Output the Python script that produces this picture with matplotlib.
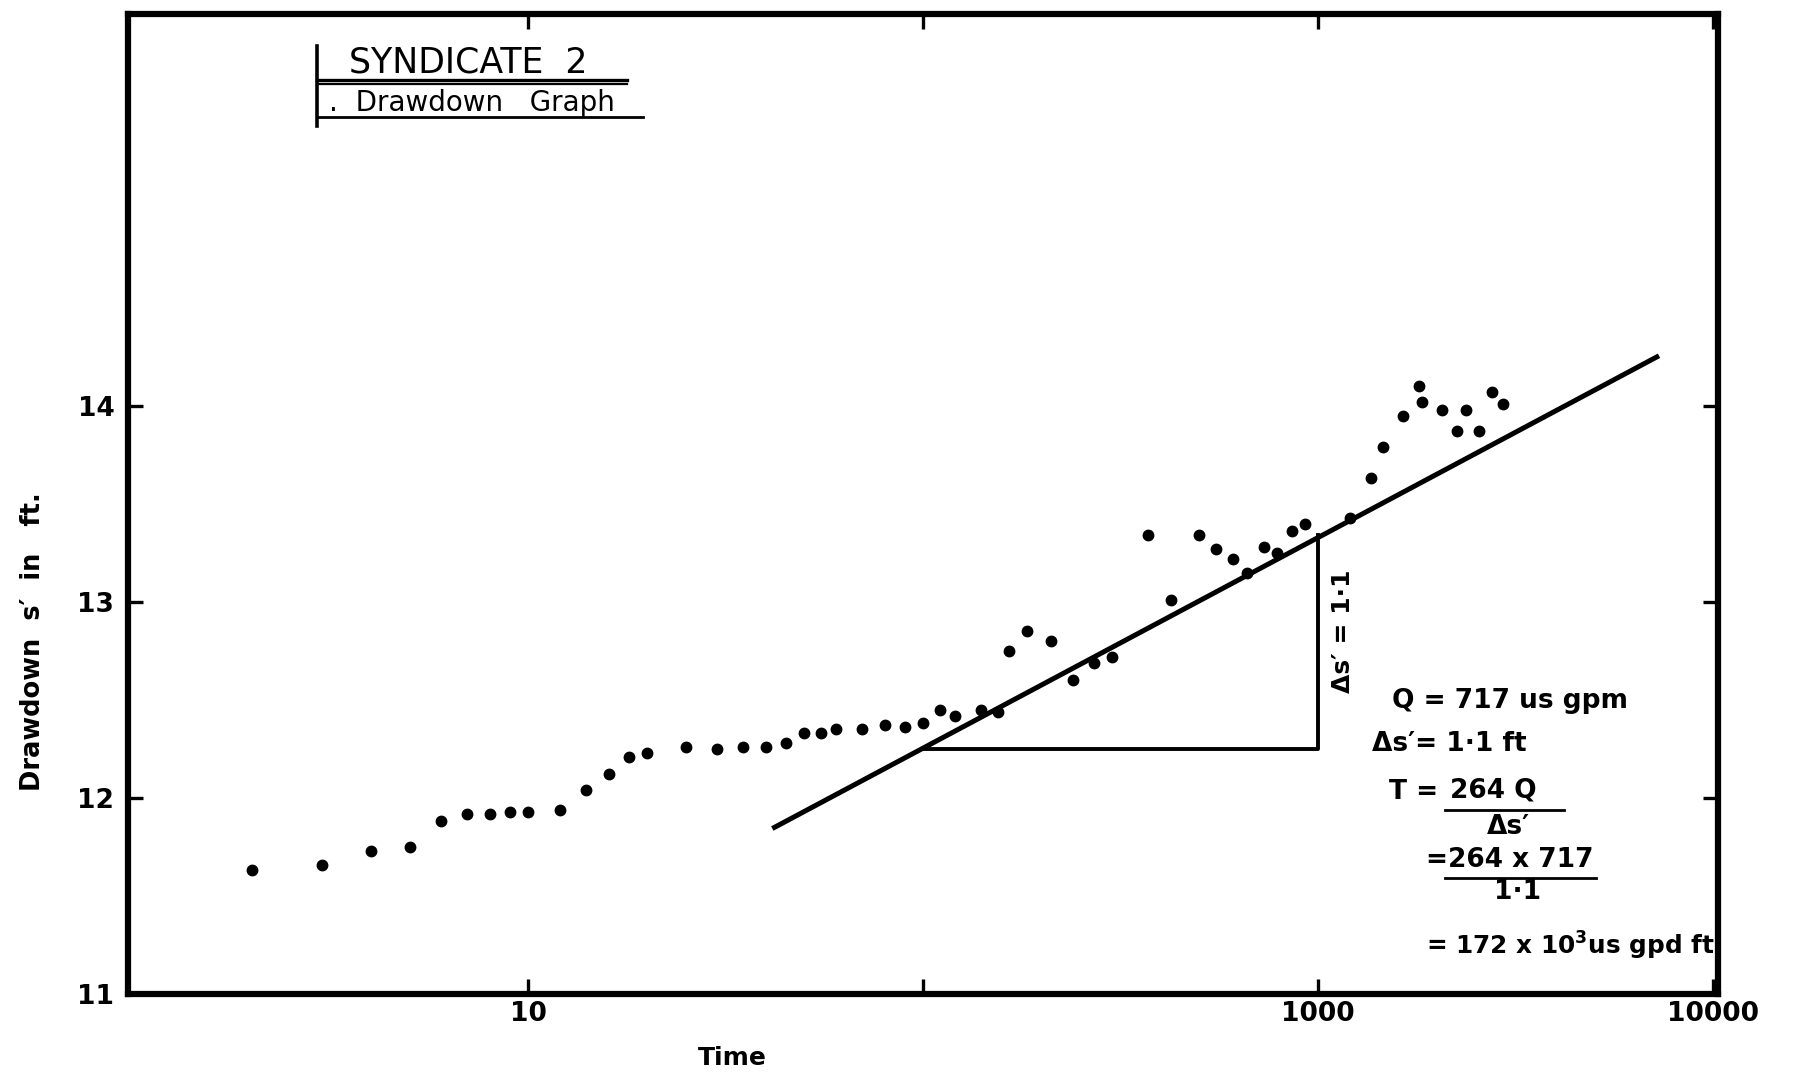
import matplotlib
matplotlib.use("Agg")
import matplotlib.pyplot as plt
import numpy as np

plt.rcParams['font.family'] = ['DejaVu Sans']

# ---- data ----
time_min = [2, 3, 4, 5, 6, 7, 8, 9, 10, 12, 14, 16, 18, 20, 25, 30, 35, 40, 45,
            50, 55, 60, 70, 80, 90, 100, 110, 120, 140, 155, 165, 183, 210, 240,
            270, 300, 370, 425, 500, 550, 610, 660, 730, 785, 860, 925, 1200,
            1360, 1455, 1640, 1795, 1830, 2055, 2250, 2365, 2550, 2755, 2945]
drawdown_ft = [11.63, 11.66, 11.73, 11.75, 11.88, 11.92, 11.92, 11.93, 11.93, 11.94,
               12.04, 12.12, 12.21, 12.23, 12.26, 12.25, 12.26, 12.26, 12.28,
               12.33, 12.33, 12.35, 12.35, 12.37, 12.36, 12.38, 12.45, 12.42, 12.45,
               12.44, 12.75, 12.85, 12.80, 12.60, 12.69, 12.72, 13.34, 13.01, 13.34,
               13.27, 13.22, 13.15, 13.28, 13.25, 13.36, 13.40, 13.43, 13.63, 13.79,
               13.95, 14.10, 14.02, 13.98, 13.87, 13.98, 13.87, 14.07, 14.01]

fit_t = [42, 7200]
fit_s = [11.85, 14.25]

tri_t = [100, 1000, 1000]
tri_s = [12.25, 12.25, 13.34]

x_ticks = [10, 100, 1000, 10000]
x_tick_labels = ['10', '', '1000', '10000']
y_ticks = [11, 12, 13, 14]
y_tick_labels = ['11', '12', '13', '14']

# ---- figure ----
fig = plt.figure(figsize=(17.96, 10.77), dpi=100)
ax = fig.add_axes([0.0714, 0.0771, 0.8853, 0.91])
ax.set_xscale('log')
ax.set_xlim(0.97, 10300)
ax.set_ylim(11, 16)

ax.plot(time_min, drawdown_ft, 'o', color='black', markersize=7.5, zorder=3)
ax.plot(fit_t, fit_s, '-', color='black', linewidth=3.6, zorder=2)
ax.plot(tri_t, tri_s, '-', color='black', linewidth=2.8, zorder=2)

for s in ax.spines.values():
    s.set_linewidth(4.5)
    s.set_color('black')

ax.set_xticks(x_ticks)
ax.set_xticklabels(x_tick_labels)
ax.xaxis.set_minor_locator(matplotlib.ticker.NullLocator())
ax.set_yticks(y_ticks)
ax.set_yticklabels(y_tick_labels)
ax.tick_params(axis='both', which='major', direction='in', length=11, width=2.4,
               top=True, right=True, labelsize=19)
ax.tick_params(axis='x', pad=5)
ax.tick_params(axis='y', pad=10)
for lab in ax.get_xticklabels() + ax.get_yticklabels():
    lab.set_fontweight('bold')

ax.set_xlabel('Time', fontsize=18, fontweight='bold')
ax.xaxis.set_label_coords(0.380, -0.053)
ax.set_ylabel("Drawdown  s\u2032  in   ft.", fontsize=18.5, fontweight='bold')
ax.yaxis.set_label_coords(-0.052, 0.36)

T = ax.transAxes
txt = dict(transform=T, fontweight='bold', color='black', va='center')

# title block
ax.text(0.139, 0.950, 'SYNDICATE  2', fontsize=25, ha='left', fontweight='normal',
        transform=T, va='center')
ax.plot([0.119, 0.314], [0.933, 0.933], color='black', lw=2.4, transform=T, clip_on=False)
ax.plot([0.119, 0.314], [0.928, 0.928], color='black', lw=1.6, transform=T, clip_on=False)
ax.text(0.126, 0.909, '.  Drawdown   Graph', fontsize=20, ha='left', fontweight='normal',
        transform=T, va='center')
ax.plot([0.119, 0.324], [0.895, 0.895], color='black', lw=2.0, transform=T, clip_on=False)
ax.plot([0.119, 0.119], [0.886, 0.967], color='black', lw=2.6, transform=T, clip_on=False)

# vertical label on the triangle
ax.text(0.764, 0.37, "\u0394s\u2032 = 1\u00b71", fontsize=18, rotation=90, ha='center', **txt)

# calculation block
ax.text(0.795, 0.299, 'Q = 717 us gpm', fontsize=19, ha='left', **txt)
ax.text(0.782, 0.255, "\u0394s\u2032= 1\u00b71 ft", fontsize=19, ha='left', **txt)
ax.text(0.793, 0.206, 'T =', fontsize=19, ha='left', **txt)
ax.text(0.831, 0.208, '264 Q', fontsize=19, ha='left', **txt)
ax.plot([0.828, 0.903], [0.188, 0.188], color='black', lw=2.0, transform=T)
ax.text(0.868, 0.170, "\u0394s\u2032", fontsize=19, ha='center', **txt)
ax.text(0.816, 0.137, '=264 x 717', fontsize=19, ha='left', **txt)
ax.plot([0.828, 0.923], [0.118, 0.118], color='black', lw=2.0, transform=T)
ax.text(0.874, 0.104, '1\u00b71', fontsize=19, ha='center', **txt)
ax.text(0.816, 0.049, '= 172 x 10$^{\\mathbf{3}}$us gpd ft', fontsize=17.8, ha='left', **txt)

fig.savefig('out.png', dpi=100, facecolor='white')
